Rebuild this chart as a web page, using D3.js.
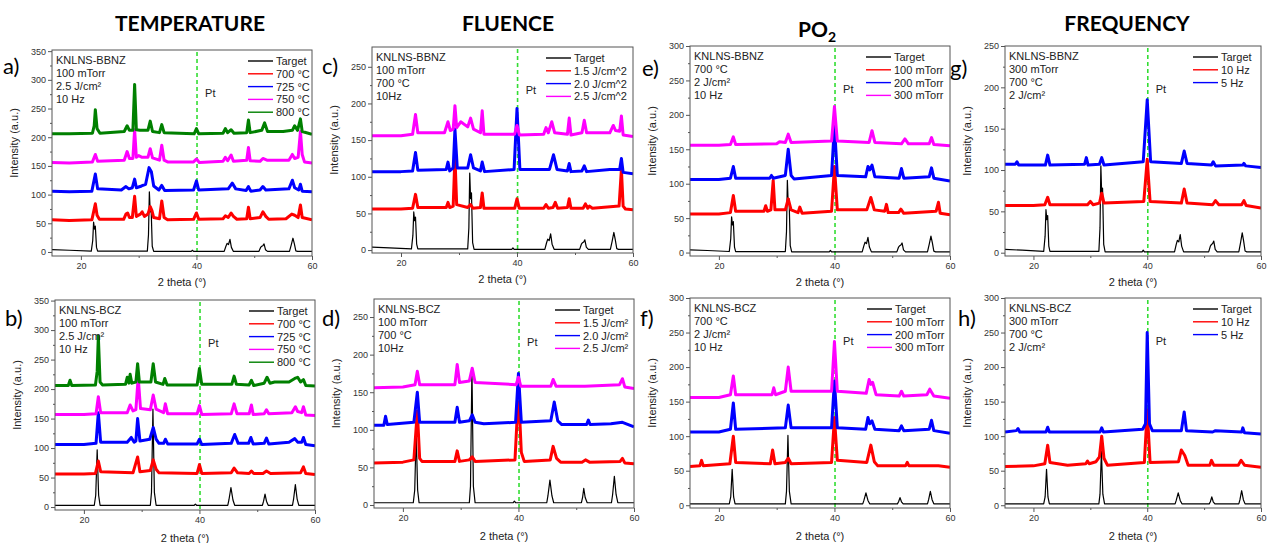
<!DOCTYPE html>
<html>
<head>
<meta charset="utf-8">
<script src="https://cdn.jsdelivr.net/npm/d3@7"></script>
<style>
  body { margin: 0; background: #fff; }
  svg { display: block; }
  .tick text { font-family: "Liberation Sans", Arial, sans-serif; font-size: 9px; fill: #333; }
  .tick line { stroke: #555; }
</style>
</head>
<body>
<svg id="fig" width="1268" height="543"></svg>
<script>
// ---- data (2 theta in degrees, intensity in a.u.) ----
var xMajor = [20, 40, 60], xMinor = [30, 50];
var colors = { target: "#000000", red: "#ff0000", blue: "#0000ff", magenta: "#ff00ff", green: "#008000" };

// BBNZ target pattern (panels a, c, e, g)
var bbnzTarget = [[15,4],[18,3],[21.8,1.5],[22.05,20],[22.2,52],[22.35,40],[22.5,45],[22.7,8],[22.9,1.5],[31.5,1.5],[31.7,30],[31.85,105],[32.0,70],[32.15,78],[32.35,10],[32.6,1],[39.1,1],[39.3,3],[39.5,1],[44.8,1],[45.1,10],[45.3,15],[45.55,13],[45.8,22],[46.05,8],[46.4,1],[50.8,1],[51.1,8],[51.3,10],[51.5,11],[51.7,14],[51.95,4],[52.3,1],[56.1,1],[56.4,12],[56.7,24],[56.95,14],[57.2,2],[57.5,1],[60,1]];

// a) temperature, BBNZ
var a700 = [[15,56],[18,55],[21.9,56],[22.2,70],[22.5,84],[22.8,64],[23.2,57],[27.4,57],[27.8,66],[28.1,68],[28.4,60],[28.9,60],[29.3,97],[29.6,62],[30.3,66],[30.6,70],[31,62],[31.6,66],[32,79],[32.3,72],[32.6,60],[33.6,58],[34,89],[34.4,60],[35,56],[39.5,57],[40,68],[40.4,57],[44.6,58],[45,63],[45.5,60],[46,68],[46.4,62],[47,57],[48.7,58],[49,78],[49.3,58],[51,60],[51.5,70],[52,62],[52.5,57],[55.5,58],[56.5,66],[57,64],[57.6,60],[58,82],[58.3,60],[60,56]];
var a725 = [[15,106],[18,105],[21.9,106],[22.5,136],[22.9,110],[27,108],[27.8,114],[28.3,110],[28.9,112],[29.3,127],[29.6,112],[30.5,115],[31.2,118],[31.8,147],[32.2,140],[32.6,115],[33.5,108],[34,116],[34.5,107],[39.5,108],[40,124],[40.4,108],[45.5,110],[46.2,120],[46.8,110],[48.6,107],[49,114],[49.4,106],[51,108],[51.5,114],[52,108],[56,110],[56.6,125],[57,112],[57.7,108],[58,118],[58.3,106],[60,105]];
var a750 = [[15,156],[18,155],[22,157],[22.5,170],[22.9,158],[27.5,160],[28,175],[28.4,163],[29,163],[29.3,213],[29.6,165],[30,168],[30.6,165],[31.6,165],[32,180],[32.4,164],[33.6,160],[34,186],[34.4,160],[35,157],[39.5,157],[40,162],[40.5,156],[44.6,158],[45,165],[45.4,159],[46,169],[46.4,158],[48.7,160],[49,182],[49.3,159],[51,158],[51.5,163],[52.2,160],[56,160],[56.6,170],[57,163],[57.6,165],[58,210],[58.3,170],[58.7,157],[60,155]];
var a800 = [[15,206],[18,206],[22,207],[22.3,220],[22.5,248],[22.8,215],[23.3,207],[27.5,210],[28,220],[28.4,212],[29,212],[29.3,292],[29.6,213],[30.2,212],[31.6,212],[32,228],[32.4,210],[33.6,208],[34,222],[34.4,208],[39.6,206],[40,215],[40.4,206],[44.6,207],[45,215],[45.4,208],[46,213],[46.5,207],[48.7,208],[49,230],[49.3,208],[51.3,212],[51.8,225],[52.3,210],[53.5,210],[55,210],[56.6,212],[57,220],[57.5,212],[58,232],[58.3,210],[60,205]];

// b) temperature, BCZ
var bTarget = [[15,3],[21.8,3],[22.05,20],[22.3,97],[22.55,20],[22.8,3],[31.5,3],[31.7,25],[31.95,166],[32.2,25],[32.5,3],[39.1,3],[39.3,5],[39.5,3],[44.9,3],[45.1,12],[45.45,33],[45.8,12],[46.1,3],[50.9,3],[51.1,10],[51.35,22],[51.6,10],[51.9,3],[56.1,3],[56.3,14],[56.6,38],[56.9,14],[57.2,3],[60,3]];
var b700 = [[15,56],[20,56],[22,57],[22.5,78],[22.9,60],[28.5,58],[29.3,85],[29.7,60],[31.5,62],[32,80],[32.5,64],[33,58],[39.6,57],[40,72],[40.4,57],[45.5,58],[46,66],[46.6,58],[48.6,57],[49,61],[49.4,57],[51,57],[51.6,61],[52.3,57],[57.5,58],[58,68],[58.4,57],[60,55]];
var b725 = [[15,106],[20,106],[22.1,108],[22.5,160],[22.9,110],[27.5,110],[28.2,118],[28.7,110],[29,112],[29.3,150],[29.7,112],[31.4,115],[32,135],[32.5,115],[33,108],[33.8,108],[34.1,115],[34.5,107],[39.6,107],[40,115],[40.4,106],[45.5,108],[46.1,123],[46.7,108],[48.5,108],[48.9,118],[49.3,107],[51.2,108],[51.6,117],[52,107],[55.5,110],[56.5,116],[57,110],[57.7,110],[58,118],[58.4,106],[60,104]];
var b750 = [[15,157],[20,157],[22.1,158],[22.5,187],[22.9,160],[27.5,160],[28,173],[28.5,163],[29,165],[29.4,220],[29.8,167],[31.5,165],[32,190],[32.5,166],[33.8,160],[34.1,175],[34.5,158],[39.6,158],[40,172],[40.4,157],[45.5,158],[46,175],[46.5,158],[48.6,158],[49,173],[49.3,157],[51.2,158],[51.6,165],[52,158],[56,160],[56.6,170],[57,162],[57.7,160],[58,170],[58.4,156],[60,155]];
var b800 = [[15,206],[17.3,206],[17.6,215],[17.9,206],[22,207],[22.3,230],[22.5,290],[22.8,212],[23.2,207],[27.2,208],[27.5,220],[27.8,210],[28,225],[28.3,210],[29,212],[29.3,243],[29.6,212],[31.6,212],[32,243],[32.4,212],[33.7,208],[34,218],[34.4,207],[39.6,207],[40,235],[40.4,208],[45.6,208],[46,222],[46.4,208],[48.6,207],[49,215],[49.4,206],[51.2,210],[51.7,220],[52.2,210],[53,212],[55.5,212],[56.5,218],[57,220],[57.5,212],[58,216],[58.4,206],[60,205]];

// c) fluence, BBNZ
var c15 = [[15,56],[20,56],[22,57],[22.5,76],[22.9,58],[27.8,58],[28.1,65],[28.4,58],[29,60],[29.3,128],[29.6,62],[31.5,58],[32,62],[32.4,57],[33.7,58],[34,78],[34.3,57],[39.6,57],[40,70],[40.4,57],[44.6,57],[45,62],[45.4,57],[46.2,58],[46.6,65],[47,57],[48.7,58],[49,70],[49.3,57],[51.4,57],[51.8,63],[52.2,57],[52.5,60],[53,57],[57.6,60],[58,110],[58.3,60],[58.7,56],[60,55]];
var c20 = [[15,107],[20,107],[22,108],[22.5,133],[22.9,109],[27.8,110],[28.1,120],[28.4,108],[29,112],[29.3,165],[29.7,112],[31.5,112],[32,130],[32.5,112],[33.7,108],[34,120],[34.4,107],[39.5,110],[40,193],[40.5,110],[45.6,110],[46.3,130],[46.9,110],[48.7,108],[49,118],[49.3,107],[51.2,108],[51.6,115],[52,107],[56,110],[57,110],[57.7,110],[58,125],[58.3,106],[60,104]];
var c25 = [[15,156],[20,156],[22,158],[22.5,185],[22.9,160],[27.5,160],[28.1,175],[28.5,163],[29,165],[29.3,197],[29.6,167],[30.3,175],[31.5,168],[32,180],[32.5,165],[33.7,160],[34,190],[34.3,158],[39.6,158],[40,170],[40.4,157],[44.6,158],[45,167],[45.4,160],[46,175],[46.5,160],[48.7,158],[49,180],[49.3,157],[51.2,160],[51.6,177],[52,160],[56,160],[56.6,170],[57,163],[57.7,162],[58,183],[58.3,157],[60,155]];

// d) fluence, BCZ
var dTarget = [[15,3],[21.8,3],[22.05,20],[22.3,97],[22.55,20],[22.8,3],[31.5,3],[31.7,25],[31.95,182],[32.2,25],[32.5,3],[39.1,3],[39.3,5],[39.5,3],[44.9,3],[45.1,12],[45.45,33],[45.8,12],[46.1,3],[50.9,3],[51.1,10],[51.3,22],[51.55,10],[51.9,3],[56.1,3],[56.3,14],[56.6,38],[56.9,14],[57.2,3],[60,3]];
var d15 = [[15,56],[20,57],[21.9,60],[22.5,125],[22.9,62],[23.3,58],[29,58],[29.4,72],[29.8,58],[31.5,60],[32,64],[32.5,58],[39.4,60],[39.8,120],[40.1,137],[40.5,70],[41,58],[45.5,60],[46,78],[46.6,62],[47.3,57],[51,57],[51.6,60],[52.3,57],[57.6,58],[58,62],[58.4,56],[60,55]];
var d20 = [[15,106],[16.7,106],[17,118],[17.3,107],[21.9,110],[22.5,150],[22.9,110],[29,110],[29.4,130],[29.8,110],[31.5,112],[32,120],[32.5,110],[34,108],[39.5,110],[40,175],[40.5,110],[45.6,112],[46.2,137],[46.8,112],[47.5,107],[51.8,107],[52.1,113],[52.4,107],[56,108],[58,110],[60,104]];
var d25 = [[15,156],[20,157],[22.1,160],[22.5,178],[22.9,160],[29,160],[29.4,187],[29.8,163],[31.5,165],[32,182],[32.5,163],[39.6,160],[40,170],[40.4,158],[45.6,158],[46,167],[46.5,158],[51.5,158],[57.5,160],[58,168],[58.4,157],[60,155]];

// e) oxygen pressure, BBNZ
var e100 = [[15,56],[20,56],[22,58],[22.5,83],[22.9,60],[27.8,60],[28.1,68],[28.4,60],[29,62],[29.4,105],[29.7,62],[31.5,62],[32,78],[32.5,62],[33.7,58],[34,66],[34.4,57],[39.5,60],[40,125],[40.5,62],[45.6,62],[46.3,80],[46.9,62],[48.7,60],[49,70],[49.3,58],[51.1,58],[51.5,63],[52,57],[57.6,60],[58,73],[58.3,57],[60,55]];
var e200 = [[15,106],[20,106],[22,108],[22.5,125],[22.9,108],[28.8,108],[29.1,112],[29.4,108],[31.5,112],[32,150],[32.5,112],[33,107],[39.5,112],[40,185],[40.5,112],[45.4,110],[45.8,125],[46.1,120],[46.5,127],[47,110],[51.2,108],[51.6,122],[52,108],[56.4,110],[56.8,123],[57.2,108],[60,104]];
var e300 = [[15,156],[20,156],[22,157],[22.5,168],[22.9,157],[30,158],[30.5,161],[31.5,160],[32,172],[32.5,160],[39.5,162],[40,212],[40.5,162],[46,160],[46.5,177],[47,160],[51.6,158],[52.2,165],[52.8,158],[56.4,158],[56.8,167],[57.2,157],[60,155]];

// f) oxygen pressure, BCZ
var fTarget = [[15,2],[21.8,2],[22.05,12],[22.3,52],[22.55,12],[22.8,2],[31.5,2],[31.7,20],[31.95,101],[32.2,20],[32.5,2],[44.9,2],[45.1,7],[45.45,18],[45.8,7],[46.1,2],[50.9,2],[51.1,5],[51.35,11],[51.6,5],[51.9,2],[56.1,2],[56.3,8],[56.6,20],[56.9,8],[57.2,2],[60,2]];
var f100 = [[15,56],[16.7,57],[17,65],[17.3,57],[21.9,60],[22.5,100],[22.9,62],[28.9,60],[29.3,80],[29.7,60],[31.5,62],[32,68],[32.5,60],[39.5,62],[40,127],[40.5,65],[45.6,62],[46.3,87],[46.9,63],[47.5,57],[52.3,57],[52.6,62],[52.9,57],[56,57],[58,57],[60,55]];
var f200 = [[15,106],[20,106],[22,110],[22.5,148],[22.9,110],[31.5,112],[32,145],[32.5,112],[39.5,112],[40,180],[40.5,112],[45.4,110],[45.8,127],[46.1,118],[46.5,122],[47,110],[51.2,108],[51.6,115],[52,108],[56.4,110],[56.8,123],[57.2,108],[60,104]];
var f300 = [[15,156],[20,156],[22,160],[22.5,187],[22.9,160],[29.2,160],[29.5,170],[29.8,160],[31.5,165],[32,200],[32.5,165],[39.5,165],[40,237],[40.5,165],[45.5,162],[46,182],[46.3,175],[46.6,178],[47.2,160],[51.2,158],[51.6,165],[52,158],[56,160],[56.5,168],[57.2,158],[60,155]];

// g) frequency, BBNZ
var g10 = [[15,57],[20,57],[22,58],[22.5,67],[22.9,58],[29.5,58],[30,62],[30.5,58],[31.6,60],[32,72],[32.4,60],[39.4,62],[40,113],[40.5,62],[46,60],[46.5,77],[47,60],[51.5,58],[52,63],[52.6,58],[56.6,58],[57,63],[57.4,57],[60,54]];
var g5 = [[15,107],[16.8,107],[17.1,110],[17.4,106],[22.1,106],[22.5,118],[22.9,106],[29,107],[29.3,115],[29.6,106],[31.6,107],[32,115],[32.4,106],[39.3,110],[40,185],[40.6,110],[46,108],[46.5,123],[47,108],[51.3,106],[51.6,110],[52,105],[56.8,106],[57,108],[57.3,105],[60,103]];

// h) frequency, BCZ
var hTarget = [[15,2],[21.8,2],[22.05,12],[22.3,52],[22.55,12],[22.8,2],[31.5,2],[31.7,16],[31.95,78],[32.2,16],[32.5,2],[44.9,2],[45.1,7],[45.45,18],[45.8,7],[46.1,2],[50.9,2],[51.1,5],[51.35,12],[51.6,5],[51.9,2],[56.1,2],[56.3,8],[56.6,21],[56.9,8],[57.2,2],[60,2]];
var h10 = [[15,56],[20,57],[22,60],[22.5,87],[22.9,62],[26,58],[29.2,60],[29.5,64],[29.8,60],[31,63],[31.6,70],[32,100],[32.4,68],[33,58],[39.5,62],[40,138],[40.5,62],[45.5,63],[46,80],[46.6,72],[47.2,58],[51,58],[51.3,65],[51.7,58],[56,58],[56.5,65],[57.1,58],[60,55]];
var h5 = [[15,106],[17,108],[17.3,111],[17.6,106],[22.2,106],[22.5,113],[22.8,106],[31.7,106],[32,112],[32.3,106],[39.2,110],[39.7,118],[40,250],[40.4,118],[40.9,108],[46,108],[46.5,135],[46.9,108],[51.5,106],[52,108],[56.6,106],[56.8,112],[57.1,105],[60,103]];

var tempLabels = ["Target", "700 °C", "725 °C", "750 °C", "800 °C"];
var fluenceLabelsC = ["Target", "1.5 J/cm^2", "2.0 J/cm^2", "2.5 J/cm^2"];
var fluenceLabelsD = ["Target", "1.5 J/cm²", "2.0 J/cm²", "2.5 J/cm²"];
var po2Labels = ["Target", "100 mTorr", "200 mTorr", "300 mTorr"];
var freqLabels = ["Target", "10 Hz", "5 Hz"];

// ---- layout of the eight panels ----
var panels = [
  {id:"a)", lx:3,   ly:74,  left:52,  right:312,  top:50,  bottom:256, y:[-7,352], yMax:350, legX:36,
   info:["KNLNS-BBNZ","100 mTorr","2.5 J/cm²","10 Hz"], names:tempLabels,
   series:[bbnzTarget,a700,a725,a750,a800], cols:["target","red","blue","magenta","green"]},
  {id:"b)", lx:5,   ly:326, left:55,  right:315,  top:300, bottom:510, y:[-5,351], yMax:350, legX:38,
   info:["KNLNS-BCZ","100 mTorr","2.5 J/cm²","10 Hz"], names:tempLabels,
   series:[bTarget,b700,b725,b750,b800], cols:["target","red","blue","magenta","green"]},
  {id:"c)", lx:322, ly:74,  left:372, right:633,  top:47,  bottom:253, y:[-4,277], yMax:250, legX:59,
   info:["KNLNS-BBNZ","100 mTorr","700 °C","10Hz"], names:fluenceLabelsC,
   series:[bbnzTarget,c15,c20,c25], cols:["target","red","blue","magenta"]},
  {id:"d)", lx:322, ly:326, left:374, right:634,  top:299, bottom:508, y:[-4,274], yMax:250, legX:51,
   info:["KNLNS-BCZ","100 mTorr","700 °C","10Hz"], names:fluenceLabelsD,
   series:[dTarget,d15,d20,d25], cols:["target","red","blue","magenta"]},
  {id:"e)", lx:642, ly:76,  left:690, right:950,  top:46,  bottom:256, y:[-5,300], yMax:300, legX:56,
   info:["KNLNS-BBNZ","700 °C","2 J/cm²","10 Hz"], names:po2Labels,
   series:[bbnzTarget,e100,e200,e300], cols:["target","red","blue","magenta"]},
  {id:"f)", lx:640, ly:326, left:690, right:950,  top:298, bottom:508, y:[-4,300], yMax:300, legX:55,
   info:["KNLNS-BCZ","700 °C","2 J/cm²","10 Hz"], names:po2Labels,
   series:[fTarget,f100,f200,f300], cols:["target","red","blue","magenta"]},
  {id:"g)", lx:950, ly:76,  left:1005, right:1261, top:46,  bottom:256, y:[-4,250], yMax:250, legX:40,
   info:["KNLNS-BBNZ","300 mTorr","700 °C","2 J/cm²"], names:freqLabels,
   series:[bbnzTarget,g10,g5], cols:["target","red","blue"]},
  {id:"h)", lx:958, ly:326, left:1005, right:1261, top:298, bottom:508, y:[-4,300], yMax:300, legX:40,
   info:["KNLNS-BCZ","300 mTorr","700 °C","2 J/cm²"], names:freqLabels,
   series:[hTarget,h10,h5], cols:["target","red","blue"]}
];

var svg = d3.select("#fig");
var sans = "'Liberation Sans', Arial, sans-serif";

// column titles
var titles = [{t:"TEMPERATURE", x:190, y:31}, {t:"FLUENCE", x:508, y:31}, {t:"FREQUENCY", x:1127, y:31}];
svg.selectAll(".title").data(titles).enter().append("text")
  .attr("class","title").attr("x",d=>d.x).attr("y",d=>d.y)
  .attr("text-anchor","middle").style("font-family","Lato, 'Open Sans', sans-serif")
  .style("font-weight","bold").style("font-size","21px").text(d=>d.t);
var po = svg.append("text").attr("x",817).attr("y",37).attr("text-anchor","middle")
  .style("font-family","Lato, 'Open Sans', sans-serif").style("font-weight","bold").style("font-size","21px");
po.append("tspan").text("PO");
po.append("tspan").attr("dy",5).style("font-size","14px").text("2");

panels.forEach(function(p, pi){
  var x = d3.scaleLinear().domain([15,60]).range([p.left,p.right]);
  var y = d3.scaleLinear().domain(p.y).range([p.bottom,p.top]);
  var g = svg.append("g");

  var clipId = "clip" + pi;
  svg.append("defs").append("clipPath").attr("id",clipId)
    .append("rect").attr("x",p.left).attr("y",p.top)
    .attr("width",p.right-p.left).attr("height",p.bottom-p.top);

  var yMajor = d3.range(0, p.yMax+1, 50), yMinor = d3.range(25, p.yMax, 50);

  // axes
  g.append("g").attr("transform","translate(0,"+p.bottom+")")
    .call(d3.axisBottom(x).tickValues(xMajor).tickSize(4).tickPadding(3))
    .call(a=>a.select(".domain").remove());
  g.append("g").attr("transform","translate(0,"+p.bottom+")")
    .call(d3.axisBottom(x).tickValues(xMinor).tickSize(2).tickFormat(""))
    .call(a=>a.select(".domain").remove());
  g.append("g").attr("transform","translate("+p.left+",0)")
    .call(d3.axisLeft(y).tickValues(yMajor).tickSize(4).tickPadding(2))
    .call(a=>a.select(".domain").remove());
  g.append("g").attr("transform","translate("+p.left+",0)")
    .call(d3.axisLeft(y).tickValues(yMinor).tickSize(2).tickFormat(""))
    .call(a=>a.select(".domain").remove());

  // Pt reference line
  g.append("line").attr("x1",x(40.1)).attr("x2",x(40.1)).attr("y1",p.top+2).attr("y2",p.bottom)
    .attr("stroke","#33dd33").attr("stroke-width",1.6).attr("stroke-dasharray","4,3");

  // patterns
  var line = d3.line().x(d=>x(d[0])).y(d=>y(d[1]));
  var lines = g.append("g").attr("clip-path","url(#"+clipId+")");
  p.series.forEach(function(s, i){
    lines.append("path").datum(s).attr("d",line).attr("fill","none")
      .attr("stroke",colors[p.cols[i]])
      .attr("stroke-width", i===0 ? 1.2 : 3)
      .attr("stroke-linejoin","round");
  });

  // frame
  g.append("rect").attr("x",p.left).attr("y",p.top)
    .attr("width",p.right-p.left).attr("height",p.bottom-p.top)
    .attr("fill","none").attr("stroke","#555").attr("stroke-width",1);

  // labels
  g.append("text").attr("x",p.lx).attr("y",p.ly).style("font-family","Lato, 'Open Sans', sans-serif")
    .style("font-size","22px").text(p.id);
  g.append("text").attr("transform","translate("+(p.left-34)+","+((p.top+p.bottom)/2-10)+") rotate(-90)")
    .attr("text-anchor","middle").style("font-family",sans).style("font-size","11px").attr("fill","#222")
    .text("Intensity (a.u.)");
  g.append("text").attr("x",(p.left+p.right)/2).attr("y",p.bottom+(pi%2===0 ? 30 : 32))
    .attr("text-anchor","middle").style("font-family",sans).style("font-size","11px").attr("fill","#222")
    .text("2 theta (°)");
  g.append("text").attr("x",x(41.5)).attr("y",p.top+47).style("font-family",sans).style("font-size","11px")
    .attr("fill","#222").text("Pt");

  g.selectAll(".info").data(p.info).enter().append("text")
    .attr("x",p.left+4).attr("y",(d,i)=>p.top+14+i*13)
    .style("font-family",sans).style("font-size","11px").attr("fill","#222").text(d=>d);

  // legend
  var lx = p.right - p.legX;
  var leg = g.selectAll(".leg").data(p.names).enter().append("g")
    .attr("transform",(d,i)=>"translate("+lx+","+(p.top+11+i*12.8)+")");
  leg.append("line").attr("x1",-28).attr("x2",-3).attr("stroke",(d,i)=>colors[p.cols[i]]).attr("stroke-width",1.4);
  leg.append("text").attr("x",0).attr("y",4).style("font-family",sans).style("font-size","11px")
    .attr("fill","#222").text(d=>d);
});
</script>
</body>
</html>
